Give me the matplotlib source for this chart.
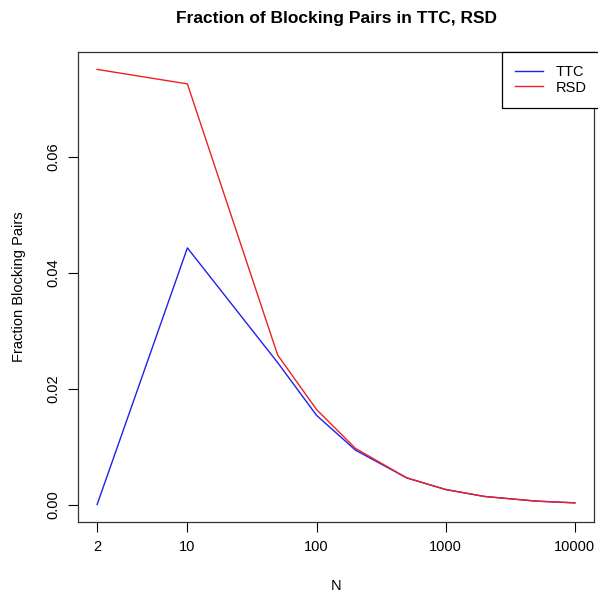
import numpy as np
import matplotlib.pyplot as plt

plt.rcParams['font.family'] = ['Liberation Sans', 'DejaVu Sans']

N = [2, 10, 50, 100, 200, 500, 1000, 2000, 5000, 10000]
ttc = [0.0, 0.0443, 0.0245, 0.0154, 0.0094, 0.0046, 0.0026, 0.0014, 0.0006, 0.0003]
rsd = [0.0751, 0.0726, 0.0258, 0.0164, 0.0097, 0.0046, 0.0026, 0.0014, 0.0006, 0.0003]
xticks = [2, 10, 100, 1000, 10000]

fig = plt.figure(figsize=(5.98, 5.92), dpi=100)
ax = fig.add_axes([78/598, 70/592, 516/598, 470/592])

ax.plot(N, ttc, color='#2020ee', lw=1, label='TTC')
ax.plot(N, rsd, color='#ee2020', lw=1, label='RSD')

ax.set_xscale('log')
lx = np.log10([2, 10000])
pad = (lx[1] - lx[0]) * 0.04
ax.set_xlim(10**(lx[0] - pad), 10**(lx[1] + pad))
ymax = max(rsd)
ax.set_ylim(-ymax * 0.04, ymax * 1.04)

ax.set_xticks(xticks)
ax.set_xticklabels([str(t) for t in xticks])
ax.minorticks_off()
ax.set_yticks([0, 0.02, 0.04, 0.06])
ax.set_yticklabels(['0.00', '0.02', '0.04', '0.06'], rotation=90, va='center')
ax.tick_params(direction='out', length=7, width=0.8, labelsize=10.5, pad=6)
for s in ax.spines.values():
    s.set_linewidth(0.9)
    s.set_color('#333333')

ax.set_xlabel('N', fontsize=10.5, labelpad=18)
ax.set_ylabel('Fraction Blocking Pairs', fontsize=10.5, labelpad=14)
fig.suptitle('Fraction of Blocking Pairs in TTC, RSD', fontsize=12.5,
             fontweight='bold', x=336/598, y=0.982)

# R legend box runs off the right edge of the figure
leg = ax.legend(loc='upper left', bbox_to_anchor=((502 - 78) / 516, 1.0),
                fancybox=False, edgecolor='black', framealpha=1,
                borderaxespad=0, fontsize=10.5, handlelength=1.9,
                handletextpad=0.9, borderpad=0.9, labelspacing=0.1)
leg.get_frame().set_linewidth(0.9)

fig.savefig('out.png', dpi=100)
